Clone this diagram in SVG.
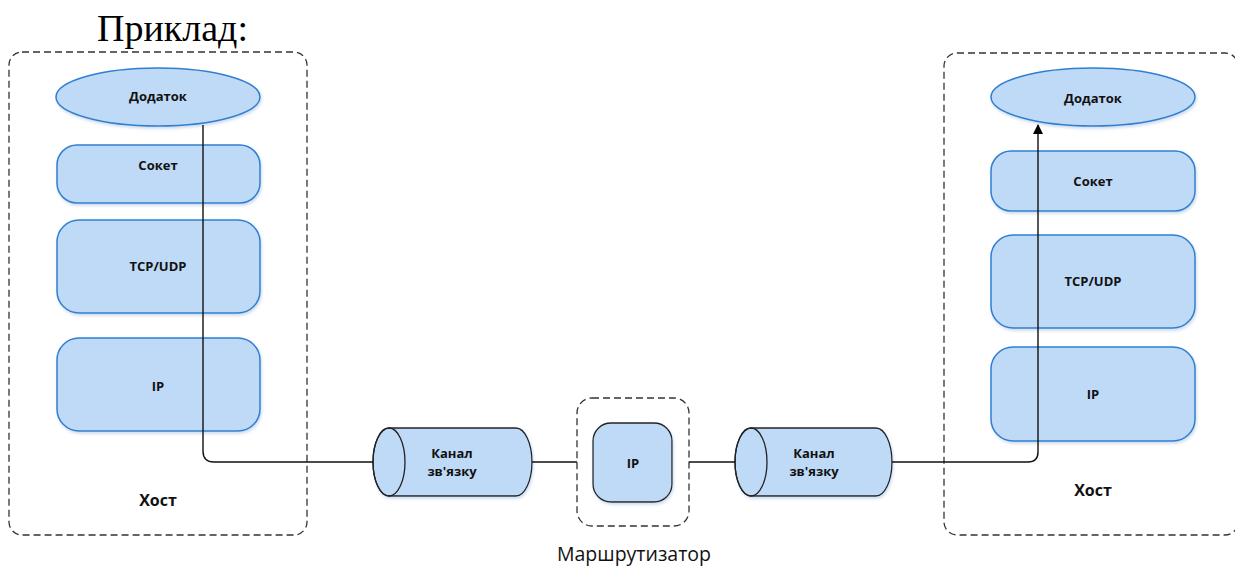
<svg xmlns="http://www.w3.org/2000/svg" width="1235" height="568" viewBox="0 0 1235 568">
  <defs>
    <marker id="arrow" viewBox="0 0 10 10" refX="9" refY="5" markerWidth="10" markerHeight="10" markerUnits="userSpaceOnUse" orient="auto">
      <path d="M0,0 L10,5 L0,10 z" fill="#000"/>
    </marker>
    <filter id="shadow" x="-10%" y="-10%" width="120%" height="130%">
      <feDropShadow dx="1" dy="2" stdDeviation="1.5" flood-color="#9ab8dc" flood-opacity="0.5"/>
    </filter>
  </defs>
  <style>
    .frame { fill: #fff; stroke: #333; stroke-width: 1.3; stroke-dasharray: 7 4; }
    .layer { fill: #bfdaf7; stroke: #2f7fcf; stroke-width: 1.5; filter: url(#shadow); }
    .dark { fill: #bfdaf7; stroke: #222; stroke-width: 1.3; filter: url(#shadow); }
    .lbl { font-family: "Open Sans", "Liberation Sans", sans-serif; font-weight: bold; font-size: 13px; fill: #111; text-anchor: middle; }
    .host { font-family: "Open Sans", "Liberation Sans", sans-serif; font-weight: bold; font-size: 16px; fill: #111; text-anchor: middle; }
    .wire { fill: none; stroke: #111; stroke-width: 1.4; }
  </style>

  <text x="97" y="41" font-family="Liberation Serif, serif" font-size="38" fill="#000">Приклад:</text>

  <!-- left host -->
  <g id="host-left">
    <rect class="frame" x="9" y="52" width="298" height="483" rx="13"/>
    <text class="host" x="158" y="506">Хост</text>
  </g>
  <g id="app-left">
    <ellipse class="layer" cx="158" cy="97" rx="102" ry="29"/>
    <text class="lbl" x="158" y="101">Додаток</text>
  </g>
  <g id="socket-left">
    <rect class="layer" x="57" y="145" width="203" height="58" rx="20"/>
    <text class="lbl" x="158" y="170">Сокет</text>
  </g>
  <g id="tcp-left">
    <rect class="layer" x="57" y="220" width="203" height="93" rx="22"/>
    <text class="lbl" x="158" y="271">TCP/UDP</text>
  </g>
  <g id="ip-left">
    <rect class="layer" x="57" y="338" width="203" height="93" rx="22"/>
    <text class="lbl" x="158" y="391">IP</text>
  </g>

  <!-- link 1 -->
  <g id="link-1">
    <path class="dark" d="M389,428 H516 A16,34 0 0 1 516,496 H389 A16,34 0 0 1 389,428 z"/>
    <ellipse fill="none" stroke="#222" stroke-width="1.3" cx="389" cy="462" rx="16" ry="34"/>
    <text class="lbl" x="452" y="458">Канал</text>
    <text class="lbl" x="452" y="476">зв'язку</text>
  </g>

  <!-- router -->
  <g id="router">
    <rect class="frame" x="577" y="398" width="112" height="128" rx="15"/>
    <text x="634" y="561" font-family="Open Sans, Liberation Sans, sans-serif" font-size="19.5" fill="#111" text-anchor="middle">Маршрутизатор</text>
  </g>
  <g id="ip-router">
    <rect class="dark" x="593" y="423" width="79" height="79" rx="18"/>
    <text class="lbl" x="633" y="468">IP</text>
  </g>

  <!-- link 2 -->
  <g id="link-2">
    <path class="dark" d="M751,428 H876 A16,34 0 0 1 876,496 H751 A16,34 0 0 1 751,428 z"/>
    <ellipse fill="none" stroke="#222" stroke-width="1.3" cx="751" cy="462" rx="16" ry="34"/>
    <text class="lbl" x="814" y="458">Канал</text>
    <text class="lbl" x="814" y="476">зв'язку</text>
  </g>

  <!-- right host -->
  <g id="host-right">
    <rect class="frame" x="944" y="53" width="294" height="482" rx="13"/>
    <text class="host" x="1093" y="496">Хост</text>
  </g>
  <g id="app-right">
    <ellipse class="layer" cx="1093" cy="97" rx="102" ry="29"/>
    <text class="lbl" x="1093" y="103">Додаток</text>
  </g>
  <g id="socket-right">
    <rect class="layer" x="991" y="151" width="204" height="60" rx="20"/>
    <text class="lbl" x="1093" y="186">Сокет</text>
  </g>
  <g id="tcp-right">
    <rect class="layer" x="991" y="235" width="204" height="93" rx="22"/>
    <text class="lbl" x="1093" y="286">TCP/UDP</text>
  </g>
  <g id="ip-right">
    <rect class="layer" x="991" y="347" width="204" height="94" rx="22"/>
    <text class="lbl" x="1093" y="399">IP</text>
  </g>

  <!-- connectors -->
  <g id="connectors">
    <path class="wire" d="M203,125 V451 Q203,462 214,462 H373"/>
    <path class="wire" d="M532,462 H577"/>
    <path class="wire" d="M689,462 H735"/>
    <path class="wire" marker-end="url(#arrow)" d="M892,462 H1028 Q1038,462 1038,452 V125"/>
  </g>
</svg>
